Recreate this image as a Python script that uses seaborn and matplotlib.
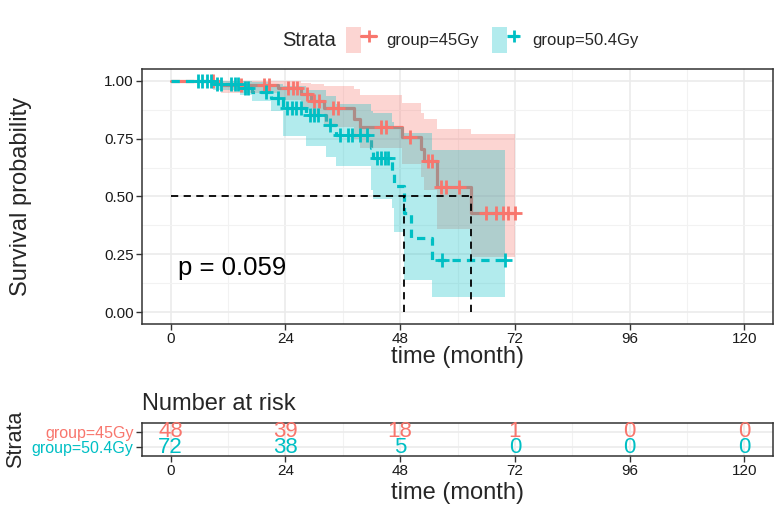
import numpy as np
import pandas as pd
import matplotlib
matplotlib.use("Agg")
import matplotlib.pyplot as plt
import seaborn as sns
from matplotlib.patches import Patch
from matplotlib.lines import Line2D
from matplotlib.legend_handler import HandlerTuple

# ---------------- data ----------------
groups = ["group=45Gy", "group=50.4Gy"]
colors = ["#F8766D", "#00BFC4"]

red_times = [0, 10.5, 22.5, 27.3, 29.4, 32.0, 38.4, 39.5, 48.4, 52.4, 53.0, 55.7, 62.8, 72.0]
red_surv  = [1.0, 0.979, 0.966, 0.944, 0.914, 0.88, 0.836, 0.80, 0.755, 0.706, 0.655, 0.54, 0.43, 0.43]
red_upper = [1.0, 1.0, 1.0, 0.99, 0.985, 0.975, 0.965, 0.94, 0.905, 0.86, 0.835, 0.79, 0.77, 0.77]
red_lower = [1.0, 0.945, 0.915, 0.88, 0.845, 0.80, 0.75, 0.71, 0.64, 0.585, 0.53, 0.36, 0.237, 0.237]
red_censor = [8.8, 14.8, 19.5, 20.5, 24.5, 25.5, 26.5, 28.5, 30.0, 31.0, 34.0, 35.0, 44.0, 45.0,
              50.0, 53.8, 54.6, 56.5, 57.5, 60.3, 66.0, 68.0, 69.5, 70.5, 72.0]

teal_times = [0, 8.8, 14.4, 17.0, 21.0, 23.5, 28.3, 32.5, 34.5, 42.0, 42.4, 46.3, 46.8, 48.9, 50.2, 54.7, 70.0]
teal_surv  = [1.0, 0.986, 0.97, 0.95, 0.925, 0.88, 0.853, 0.81, 0.766, 0.71, 0.664, 0.60, 0.547, 0.43, 0.323, 0.224, 0.224]
teal_upper = [1.0, 1.0, 1.0, 0.995, 0.985, 0.975, 0.96, 0.935, 0.90, 0.87, 0.86, 0.82, 0.80, 0.775, 0.775, 0.70, 0.70]
teal_lower = [1.0, 0.96, 0.94, 0.91, 0.87, 0.76, 0.72, 0.67, 0.63, 0.53, 0.49, 0.45, 0.345, 0.14, 0.14, 0.065, 0.065]
teal_censor = [5.7, 6.6, 7.5, 8.4, 9.6, 10.6, 12.7, 13.4, 14.0, 15.5, 16.2, 20.0, 22.5, 24.3, 25.3,
               26.2, 27.3, 29.2, 30.0, 30.8, 33.3, 35.5, 37.0, 38.0, 39.5, 41.0, 43.2, 44.0, 44.8,
               45.5, 56.8, 70.0]

p_text = "p = 0.059"

risk_times = [0, 24, 48, 72, 96, 120]
risk_45 = [48, 39, 18, 1, 0, 0]
risk_504 = [72, 38, 5, 0, 0, 0]

x_ticks = [0, 24, 48, 72, 96, 120]
y_ticks = [0.0, 0.25, 0.5, 0.75, 1.0]

# ---------------- style ----------------
sns.set_theme(style="whitegrid")
plt.rcParams["font.family"] = ["Liberation Sans", "DejaVu Sans"]

W, H = 779, 505
fig = plt.figure(figsize=(W / 100, H / 100), dpi=100)


def px_rect(l, t, r, b):
    return [l / W, 1 - b / H, (r - l) / W, (b - t) / H]


ax = fig.add_axes(px_rect(142, 69, 773, 324))
axt = fig.add_axes(px_rect(142, 423, 773, 456))


def surv_at(times, surv, t):
    idx = np.searchsorted(np.asarray(times), t, side="right") - 1
    return np.asarray(surv)[idx]


curves = [
    (red_times, red_surv, red_lower, red_upper, red_censor, colors[0], "-"),
    (teal_times, teal_surv, teal_lower, teal_upper, teal_censor, colors[1], "--"),
]

# step lines
for times, surv, lo, hi, cens, col, ls in curves:
    df = pd.DataFrame({"time": times, "surv": surv})
    kw = {}
    if ls == "--":
        kw["dashes"] = (2.6, 1.9)
    sns.lineplot(data=df, x="time", y="surv", ax=ax, color=col, lw=2.3,
                 drawstyle="steps-post", estimator=None, sort=False, zorder=2, **kw)

# confidence bands on top
for times, surv, lo, hi, cens, col, ls in curves:
    ax.fill_between(times, lo, hi, step="post", color=col, alpha=0.3, lw=0, zorder=3)

# censor marks
for times, surv, lo, hi, cens, col, ls in curves:
    cdf = pd.DataFrame({"time": cens, "surv": surv_at(times, surv, cens)})
    sns.scatterplot(data=cdf, x="time", y="surv", ax=ax, marker="+", s=110,
                    color=col, linewidth=2, zorder=4, legend=False)

# median lines
medians = []
for times, surv, *_ in curves:
    s = np.asarray(surv)
    idx = np.argmax(s <= 0.5)
    medians.append(times[idx])
ax.plot([0, max(medians)], [0.5, 0.5], ls=(0, (4, 3)), color="black", lw=1.3, zorder=5)
for m in medians:
    ax.plot([m, m], [0, 0.5], ls=(0, (4, 3)), color="black", lw=1.3, zorder=5)

ax.text(1.5, 0.19, p_text, fontsize=18.5, ha="left", va="center", color="black")

# axes formatting
for a in (ax, axt):
    a.set_xlim(-6, 126)
    a.set_xticks(x_ticks)
    a.set_xticks([12, 36, 60, 84, 108], minor=True)
    a.set_facecolor("white")
    for sp in a.spines.values():
        sp.set_color("#333333")
        sp.set_linewidth(1.1)
    a.grid(which="major", color="#EBEBEB", lw=1.2)
    a.grid(which="minor", color="#F2F2F2", lw=0.8)
    a.tick_params(axis="both", which="major", length=4, width=1, color="#333333",
                  labelsize=11, labelcolor="#1a1a1a", pad=2, bottom=True, left=True)
    a.tick_params(which="minor", length=0)
    a.set_axisbelow(True)

ax.set_ylim(-0.05, 1.05)
ax.set_yticks(y_ticks)
ax.set_yticklabels([f"{v:.2f}" for v in y_ticks])
ax.set_yticks([0.125, 0.375, 0.625, 0.875], minor=True)
ax.set_xlabel("time (month)", fontsize=17, labelpad=0)
ax.set_ylabel("Survival probability", fontsize=17, labelpad=52)

# risk table
axt.set_ylim(0.4, 2.6)
axt.set_yticks([2, 1])
axt.set_yticklabels(groups, fontsize=11.5)
for lab, col in zip(axt.get_yticklabels(), colors):
    lab.set_color(col)
for t, n in zip(risk_times, risk_45):
    axt.text(t, 2.05, str(n), color=colors[0], fontsize=16, ha="center", va="center")
for t, n in zip(risk_times, risk_504):
    axt.text(t, 0.95, str(n), color=colors[1], fontsize=16, ha="center", va="center")
axt.set_xlabel("time (month)", fontsize=17, labelpad=3)
axt.set_ylabel("Strata", fontsize=15.5, labelpad=4)
axt.set_title("Number at risk", loc="left", fontsize=17, pad=9)

# legend
handles = []
for col, ls in zip(colors, ["-", "--"]):
    handles.append((Patch(facecolor=col, alpha=0.3, edgecolor="none"),
                    Line2D([], [], color=col, lw=2.3, ls=ls, marker="+", ms=9, mew=2)))
fig.text(282 / W, 1 - 40 / H, "Strata", fontsize=14.5, ha="left", va="center")
fig.legend(handles, groups, handler_map={tuple: HandlerTuple(ndivide=None, pad=0)},
           loc="center left", bbox_to_anchor=(346 / W, 1 - 40 / H), ncol=2, frameon=False,
           fontsize=12, handlelength=1.8, handleheight=1.95, handletextpad=0.6,
           columnspacing=0.8, borderpad=0, borderaxespad=0)

fig.savefig("out.png", dpi=100)
